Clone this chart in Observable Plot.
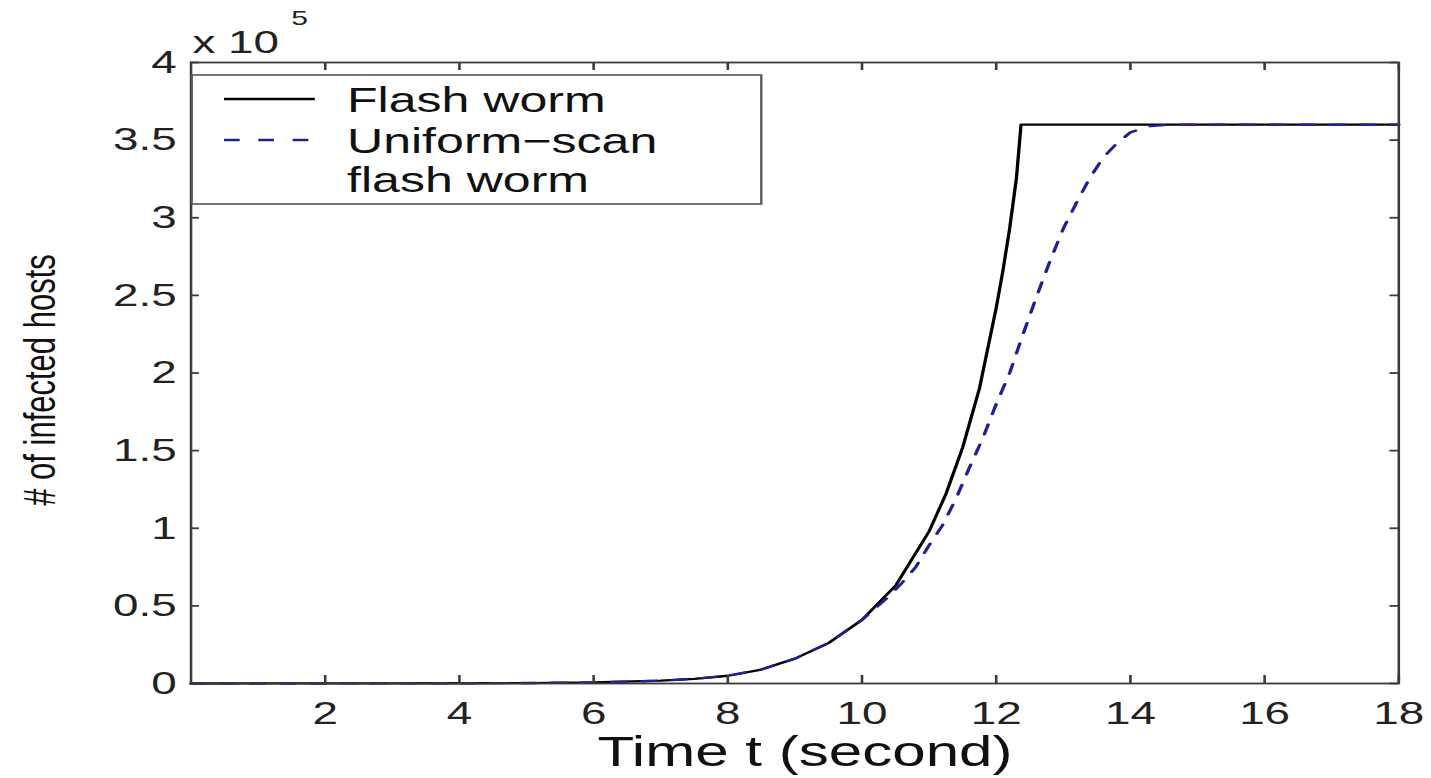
<!DOCTYPE html>
<html><head><meta charset="utf-8">
<script src="https://cdn.jsdelivr.net/npm/d3@7"></script>
<script src="https://cdn.jsdelivr.net/npm/@observablehq/plot@0.6"></script>
<style>html,body{margin:0;padding:0;background:#fff;overflow:hidden} #chart svg{display:block}</style>
</head><body><div id="chart"></div>
<script>
// time (seconds) and infected hosts (x 10^5)
const flashT = [0,1,2,3,4,5,6,7,7.5,8,8.5,9,9.5,10,10.5,11,11.25,11.5,11.75,12,12.1,12.2,12.3,12.37,13,14,15,16,17,18];
const flashV = [0,0.0002,0.0004,0.0008,0.0015,0.003,0.007,0.018,0.03,0.05,0.09,0.16,0.26,0.41,0.63,0.98,1.22,1.52,1.9,2.42,2.66,2.93,3.25,3.6,3.6,3.6,3.6,3.6,3.6,3.6];
const uniformT = [0,1,2,3,4,5,6,7,7.5,8,8.5,9,9.5,10,10.4,10.6,10.8,11,11.2,11.4,11.6,11.8,12,12.2,12.4,12.6,12.8,13,13.2,13.4,13.6,13.8,14,14.3,14.6,15,16,17,18];
const uniformV = [0,0.0002,0.0004,0.0008,0.0015,0.003,0.007,0.018,0.03,0.05,0.09,0.16,0.26,0.41,0.56,0.65,0.75,0.89,1.02,1.19,1.39,1.58,1.8,2.0,2.25,2.49,2.72,2.93,3.1,3.26,3.39,3.48,3.55,3.59,3.6,3.6,3.6,3.6,3.6];
const xTicks = [2,4,6,8,10,12,14,16,18];
const yTicks = [0,0.5,1,1.5,2,2.5,3,3.5,4];
const yTickLabels = ["0","0.5","1","1.5","2","2.5","3","3.5","4"];
const legendLabels = ["Flash worm", "Uniform\u2212scan", "flash worm"];
const xLabel = "Time t (second)";
const yLabel = "# of infected hosts";
const expText = "x 10";
const expPower = "5";

const flash = flashT.map((t, i) => ({t, v: flashV[i]}));
const uniform = uniformT.map((t, i) => ({t, v: uniformV[i]}));
const yLab = new Map(yTicks.map((d, i) => [d, yTickLabels[i]]));

const W = 1000, H = 778, FULLW = 1431;
const mL = 133, mR = 23, mT = 62, mB = 95;
const axisColor = "#3a3a3a";
const blue = "#20208f";
const font = "'Liberation Sans', Arial, Helvetica, sans-serif";
const xDom = [0, 18], yDom = [0, 4];
// inward tick lengths in pixels, expressed in data units for rules
const xTickLen = 8 * (yDom[1] - yDom[0]) / (H - mT - mB);
const yTickLen = 6 * (xDom[1] - xDom[0]) / (W - mL - mR);

const svg = Plot.plot({
  width: W, height: H,
  marginLeft: mL, marginRight: mR, marginTop: mT, marginBottom: mB,
  style: {fontFamily: font, background: "white", color: "#222"},
  x: {domain: xDom},
  y: {domain: yDom},
  marks: [
    Plot.line(flash, {x: "t", y: "v", stroke: "#000", strokeWidth: 2.3}),
    Plot.line(uniform, {x: "t", y: "v", stroke: blue, strokeWidth: 2.4, strokeDasharray: "10,11"}),
    Plot.ruleX(xTicks, {x: d => d, y1: yDom[0], y2: yDom[0] + xTickLen, stroke: axisColor, strokeWidth: 1.8}),
    Plot.ruleX(xTicks, {x: d => d, y1: yDom[1], y2: yDom[1] - xTickLen, stroke: axisColor, strokeWidth: 1.8}),
    Plot.ruleY(yTicks, {y: d => d, x1: xDom[0], x2: xDom[0] + yTickLen, stroke: axisColor, strokeWidth: 1.8}),
    Plot.ruleY(yTicks, {y: d => d, x1: xDom[1], x2: xDom[1] - yTickLen, stroke: axisColor, strokeWidth: 1.8}),
    Plot.frame({stroke: axisColor, strokeWidth: 1.8}),
    Plot.axisX({ticks: xTicks, tickSize: 0, tickPadding: 18, fontSize: 32, label: null, tickFormat: d => String(d)}),
    Plot.axisY({ticks: yTicks, tickSize: 0, tickPadding: 10, fontSize: 32, label: null, tickFormat: d => yLab.get(d)}),
    Plot.text([xLabel], {frameAnchor: "bottom", lineAnchor: "bottom", textAnchor: "middle", dy: 82, dx: 7, fontSize: 42, fill: "#111"}),
    Plot.text([yLabel], {frameAnchor: "left", textAnchor: "middle", lineAnchor: "middle", dx: -105, dy: 7, rotate: -90, fontSize: 31, fill: "#111"}),
    Plot.text([expText], {frameAnchor: "top-left", textAnchor: "start", dx: 1, dy: -32, fontSize: 32, fill: "#222"}),
    Plot.text([expPower], {frameAnchor: "top-left", textAnchor: "start", dx: 70, dy: -52, fontSize: 21, fill: "#222"})
  ]
});

// legend (in plot coordinate space)
const g = d3.select(svg).append("g").attr("font-family", font).attr("text-anchor", "start");
g.append("rect").attr("x", 134).attr("y", 75).attr("width", 398).attr("height", 129)
  .attr("fill", "white").attr("stroke", "#555").attr("stroke-width", 1.6);
g.append("line").attr("x1", 156.5).attr("x2", 220).attr("y1", 99).attr("y2", 99)
  .attr("stroke", "#000").attr("stroke-width", 2.3);
g.append("line").attr("x1", 156.5).attr("x2", 220).attr("y1", 140).attr("y2", 140)
  .attr("stroke", blue).attr("stroke-width", 2.4).attr("stroke-dasharray", "11,13");
const baselines = [112, 153, 192];
legendLabels.forEach((s, i) => {
  g.append("text").attr("x", 242.5).attr("y", baselines[i]).attr("font-size", 35)
    .attr("text-anchor", "start").attr("fill", "#111").text(s);
});

svg.setAttribute("width", FULLW);
svg.setAttribute("height", H);
svg.setAttribute("viewBox", `0 0 ${W} ${H}`);
svg.setAttribute("preserveAspectRatio", "none");
svg.style.width = FULLW + "px";
svg.style.height = H + "px";
svg.style.maxWidth = "none";
document.getElementById("chart").appendChild(svg);
</script>
</body></html>
